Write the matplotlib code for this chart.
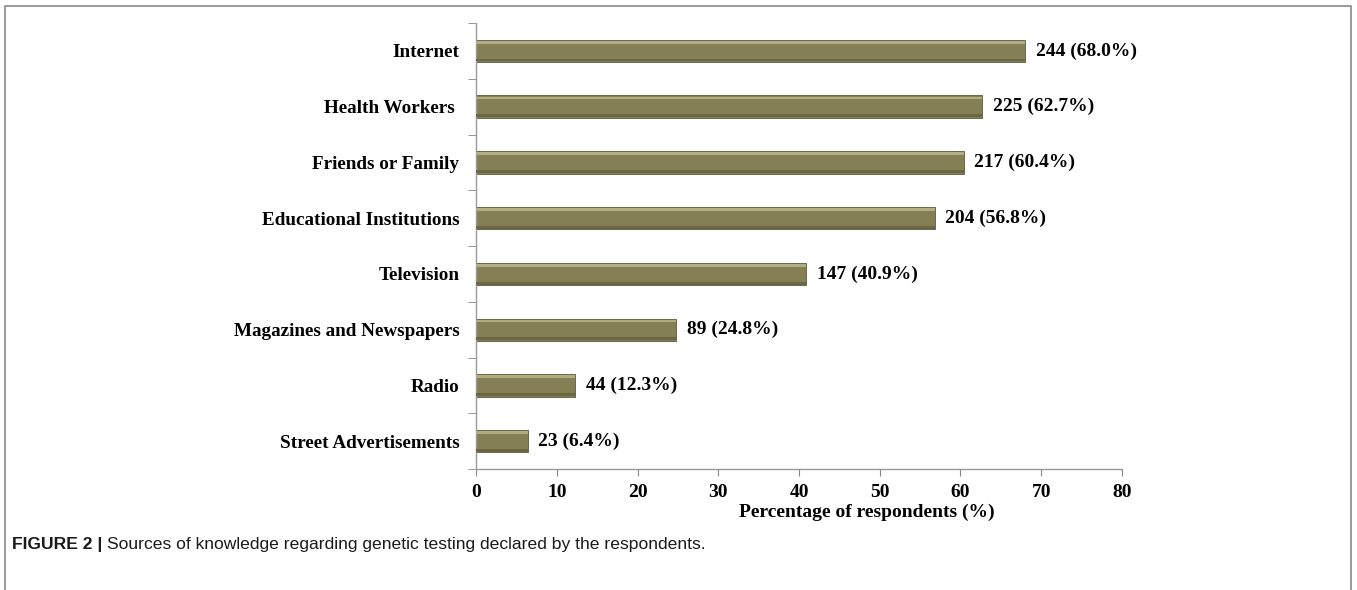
import matplotlib
matplotlib.use('Agg')
import matplotlib.pyplot as plt
import matplotlib.patches as mpatches
import numpy as np

# data
sources = ['Internet', 'Health Workers ', 'Friends or Family', 'Educational Institutions',
           'Television', 'Magazines and Newspapers', 'Radio', 'Street Advertisements']
counts = [244, 225, 217, 204, 147, 89, 44, 23]
percents = [68.0, 62.7, 60.4, 56.8, 40.9, 24.8, 12.3, 6.4]
x_ticks = [0, 10, 20, 30, 40, 50, 60, 70, 80]

SERIF = 'Liberation Serif'
BAR = '#857f56'
BAR_LIGHT = '#b3ad84'
BAR_DARK = '#5d593b'

fig = plt.figure(figsize=(13.57, 5.9), dpi=100)
ax = fig.add_axes([0.3508, 0.205, 0.476, 0.756])

y = np.arange(len(sources))
h = 0.4
ax.barh(y, percents, height=h, color=BAR, edgecolor=BAR_DARK, linewidth=0.6, zorder=2)
# bevel: light edge on top, darker edge at the bottom
ax.barh(y - h / 2 + 0.045, percents, height=0.05, color=BAR_LIGHT, edgecolor='none', zorder=3)
ax.barh(y + h / 2 - 0.035, percents, height=0.05, color='#6b6744', edgecolor='none', zorder=3)

for yi, c, p in zip(y, counts, percents):
    ax.text(p + 1.3, yi, f'{c} ({p:.1f}%)', va='center', ha='left',
            fontsize=14, fontweight='bold', family=SERIF)

ax.set_xlim(0, 80)
ax.set_ylim(len(sources) - 0.5, -0.5)
ax.set_xticks(x_ticks)
ax.set_xticklabels([str(t) for t in x_ticks], fontsize=14, fontweight='bold', family=SERIF)
ax.set_yticks(y)
ax.set_yticklabels(sources, fontsize=13.8, fontweight='bold', family=SERIF)
ax.tick_params(axis='y', length=0, pad=12)
ax.set_yticks(np.arange(-0.5, len(sources) + 0.5, 1), minor=True)
ax.tick_params(axis='y', which='minor', length=6, color='#888888')
ax.tick_params(axis='x', length=5, color='#888888', pad=6)

ax.set_xlabel('Percentage of respondents (%)', fontsize=14, fontweight='bold', family=SERIF)
ax.xaxis.set_label_coords(0.605, -0.078)

for s in ['top', 'right']:
    ax.spines[s].set_visible(False)
for s in ['left', 'bottom']:
    ax.spines[s].set_color('#999999')
    ax.spines[s].set_linewidth(1)

# outer frame
frame = mpatches.Rectangle((5 / 1357, -0.1), 1346 / 1357, 1.1 - 6 / 590,
                           transform=fig.transFigure, fill=False,
                           edgecolor='#8a8a8a', linewidth=1.2, clip_on=False)
fig.add_artist(frame)

# caption
renderer = fig.canvas.get_renderer()
t1 = fig.text(12 / 1357, 1 - 545 / 590, 'FIGURE 2 |', fontsize=12.6, fontweight='bold',
              family='Liberation Sans', va='center', ha='left', color='#1a1a1a')
bb = t1.get_window_extent(renderer)
fig.text((bb.x1 + 5) / fig.bbox.width, 1 - 545 / 590,
         'Sources of knowledge regarding genetic testing declared by the respondents.',
         fontsize=12.6, family='Liberation Sans', va='center', ha='left', color='#1a1a1a')

fig.savefig('out.png', dpi=100)
